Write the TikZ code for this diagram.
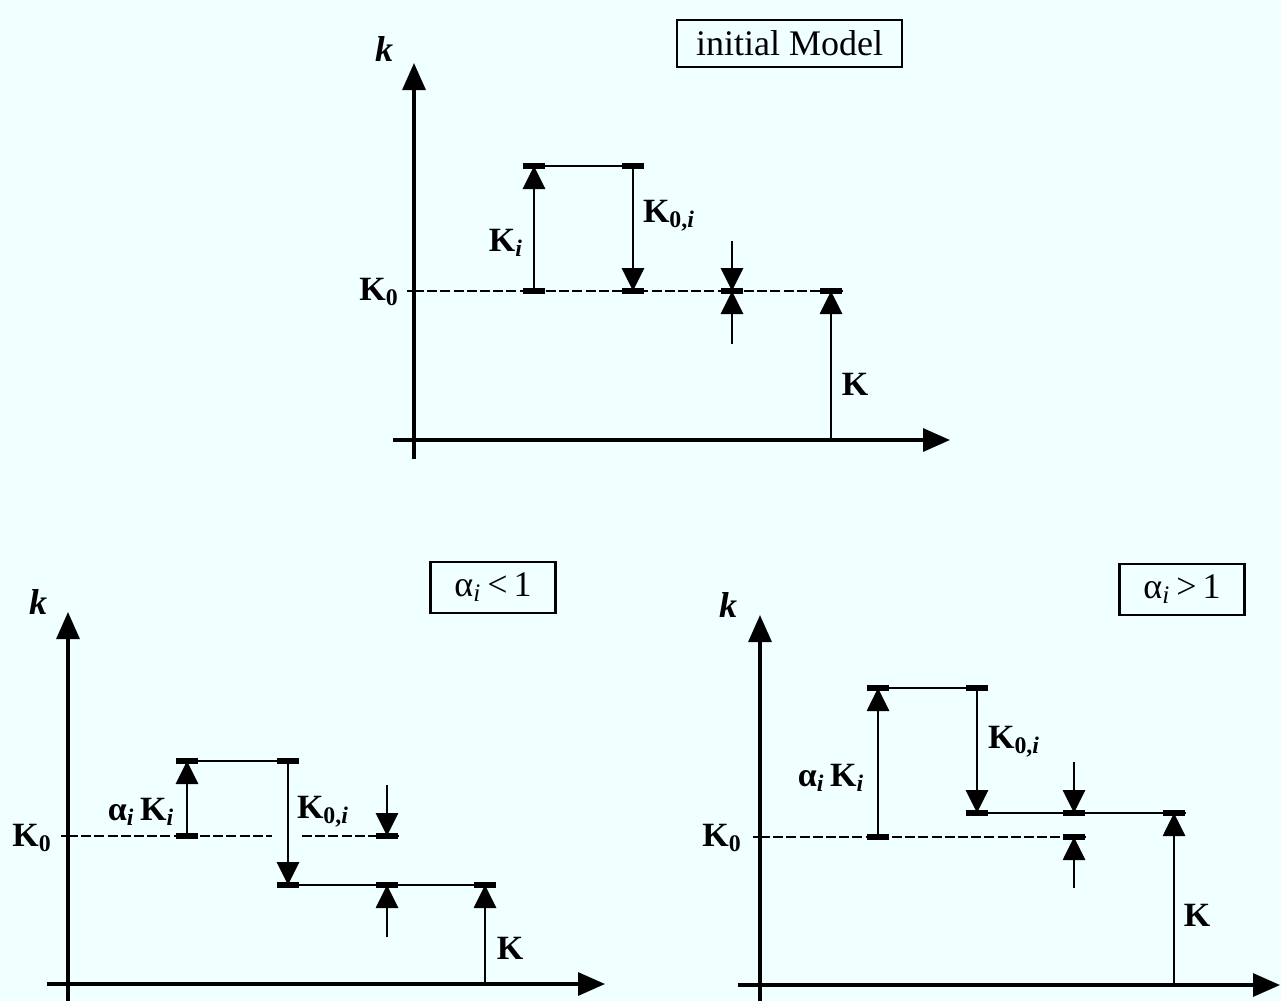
\documentclass[tikz,border=0pt]{standalone}
\usepackage{fontspec}
\setmainfont{Liberation Serif}
\usetikzlibrary{arrows.meta}
\definecolor{paper}{RGB}{240,255,255}
\begin{document}
\begin{tikzpicture}[x=0.5pt,y=-0.5pt,>={Triangle[length=11.5pt,width=11pt]},
  axis/.style={line width=1.6pt,-{Triangle[length=13.5pt,width=11.5pt]}},
  dim/.style={->,line width=1.4pt},
  bar/.style={line width=2.6pt},
  level/.style={line width=1pt},
  zero/.style={line width=1pt,dash pattern=on 5pt off 1.6pt},
  lbl/.style={font=\fontsize{17}{20}\selectfont\bfseries,inner sep=1pt},
  ax/.style={font=\fontsize{18}{21}\selectfont\itshape\bfseries,inner sep=1pt},
  case/.style={draw,line width=1.1pt,inner sep=0pt,font=\fontsize{18}{21}\selectfont}]
\fill[paper] (0,0) rectangle (1281,1001);
\useasboundingbox (0,0) rectangle (1281,1001);
\node[case,minimum width=112.5pt,minimum height=23.5pt] (initbox) at (789.5,43.5) {initial Model};
\node[ax] (tk) at (384,49) {k};
\node[lbl] (tK0) at (379,292) {K\textsubscript{0}};
\node[lbl] (tKi) at (506,243) {K\textsubscript{\textit{i}}};
\node[lbl] (tK0i) at (669,216) {K\textsubscript{0,\textit{i}}};
\node[lbl] (tK) at (855,384) {K};
\draw[axis] (414,459) -- (414,63);
\draw[axis] (393,440) -- (950,440);
\draw[level] (407,291) -- (414,291);
\draw[zero] (414,291) -- (843,291);
\draw[level] (523,166) -- (644,166);
\draw[dim] (534,291) -- (534,166);
\draw[dim] (633,166) -- (633,291);
\draw[dim] (732,241) -- (732,291);
\draw[dim] (732,344) -- (732,291);
\draw[dim] (831,440) -- (831,291);
\draw[bar] (523,291) -- (545,291) (523,166) -- (545,166) (622,166) -- (644,166) (622,291) -- (644,291) (721,291) -- (743,291) (820,291) -- (842,291);
\node[case,minimum width=62.5pt,minimum height=25.8pt] (lbox) at (493,587.5) {α\textsubscript{\textit{i}}\,<\,1};
\node[ax] (lk) at (38,602) {k};
\node[lbl] (lK0) at (32,838) {K\textsubscript{0}};
\node[lbl] (laKi) at (141,812) {α\textsubscript{\textit{i}}\,K\textsubscript{\textit{i}}};
\node[lbl] (lK0i) at (323,812) {K\textsubscript{0,\textit{i}}};
\node[lbl] (lK) at (510,948) {K};
\draw[axis] (68,1001) -- (68,612);
\draw[axis] (47,984) -- (605,984);
\draw[level] (61,836) -- (68,836);
\draw[zero] (68,836) -- (272,836) (302,836) -- (399,836);
\draw[level] (177,761) -- (298,761);
\draw[level] (277,885) -- (496,885);
\draw[dim] (187,836) -- (187,761);
\draw[dim] (288,761) -- (288,885);
\draw[dim] (387,785) -- (387,836);
\draw[dim] (387,937) -- (387,885);
\draw[dim] (485,984) -- (485,885);
\draw[bar] (176,836) -- (198,836) (176,761) -- (198,761) (277,761) -- (299,761) (277,885) -- (299,885) (376,836) -- (398,836) (376,885) -- (398,885) (474,885) -- (496,885);
\node[case,minimum width=62.5pt,minimum height=25.5pt] (rbox) at (1182,589.5) {α\textsubscript{\textit{i}}\,>\,1};
\node[ax] (rk) at (728,605) {k};
\node[lbl] (rK0) at (722,838) {K\textsubscript{0}};
\node[lbl] (raKi) at (831,778) {α\textsubscript{\textit{i}}\,K\textsubscript{\textit{i}}};
\node[lbl] (rK0i) at (1014,742) {K\textsubscript{0,\textit{i}}};
\node[lbl] (rK) at (1197,915) {K};
\draw[axis] (760,1001) -- (760,615);
\draw[axis] (738,985) -- (1280,985);
\draw[level] (753,837) -- (760,837);
\draw[zero] (760,837) -- (1086,837);
\draw[level] (868,688) -- (988,688);
\draw[level] (967,813) -- (1186,813);
\draw[dim] (878,837) -- (878,688);
\draw[dim] (977,688) -- (977,813);
\draw[dim] (1074,762) -- (1074,813);
\draw[dim] (1074,888) -- (1074,837);
\draw[dim] (1174,985) -- (1174,813);
\draw[bar] (867,837) -- (889,837) (867,688) -- (889,688) (966,688) -- (988,688) (966,813) -- (988,813) (1063,813) -- (1085,813) (1063,837) -- (1085,837) (1163,813) -- (1185,813);
\end{tikzpicture}
\end{document}
